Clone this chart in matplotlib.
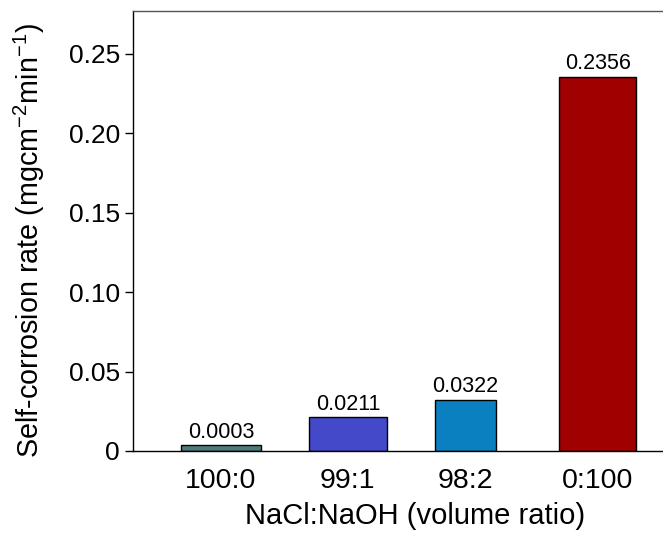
import matplotlib
matplotlib.use("Agg")
import matplotlib.pyplot as plt
from matplotlib.ticker import FixedLocator

plt.rcParams['font.family'] = ['Liberation Sans', 'DejaVu Sans']
plt.rcParams['mathtext.fontset'] = 'custom'
plt.rcParams['mathtext.rm'] = 'Liberation Sans'
plt.rcParams['mathtext.it'] = 'Liberation Sans'

categories = ["100:0", "99:1", "98:2", "0:100"]
# bar heights as drawn in the picture (the first bar is drawn taller than its label)
bar_heights = [0.0035, 0.0211, 0.0322, 0.2356]
value_labels = ["0.0003", "0.0211", "0.0322", "0.2356"]
colors = ["#4d7b79", "#4349c8", "#0a80c0", "#a00000"]
yticks = [0, 0.05, 0.10, 0.15, 0.20, 0.25]
ytick_labels = ["0", "0.05", "0.10", "0.15", "0.20", "0.25"]

# layout (not data)
xpos = [0.0, 1.01, 1.947, 3.0]
widths = [0.633, 0.617, 0.489, 0.609]

fig = plt.figure(figsize=(6.63, 5.36), dpi=100)
ax = fig.add_axes([0.2006, 0.1586, 0.7994, 0.8209])

bars = ax.bar(xpos, bar_heights, width=widths, color=colors, edgecolor="black", linewidth=1.0)
for b, lab in zip(bars, value_labels):
    ax.text(b.get_x() + b.get_width() / 2, b.get_height() + 0.0015, lab,
            ha="center", va="bottom", fontsize=15.5)

ax.set_xlim(-0.701, 3.52)
ax.set_ylim(0, 0.277)
ax.set_xticks(xpos)
ax.set_xticklabels(categories, fontsize=20.5)
ax.yaxis.set_major_locator(FixedLocator(yticks))
ax.set_yticklabels(ytick_labels, fontsize=19)
ax.tick_params(axis="x", length=0, pad=12)
ax.tick_params(axis="y", length=6, width=1, pad=3.5, direction="out")

for s in ["left", "bottom"]:
    ax.spines[s].set_linewidth(1.0)
    ax.spines[s].set_color("black")
ax.spines["top"].set_color("#555555")
ax.spines["top"].set_linewidth(1.0)
ax.spines["right"].set_visible(False)

ax.set_xlabel("NaCl:NaOH (volume ratio)", fontsize=21)
ax.xaxis.set_label_coords(0.532, -0.115)
ax.set_ylabel(r"Self-corrosion rate (mgcm$^{-2}$min$^{-1}$)", fontsize=20.7)
ax.yaxis.set_label_coords(-0.162, 0.479)

fig.savefig("out.png", dpi=100)
